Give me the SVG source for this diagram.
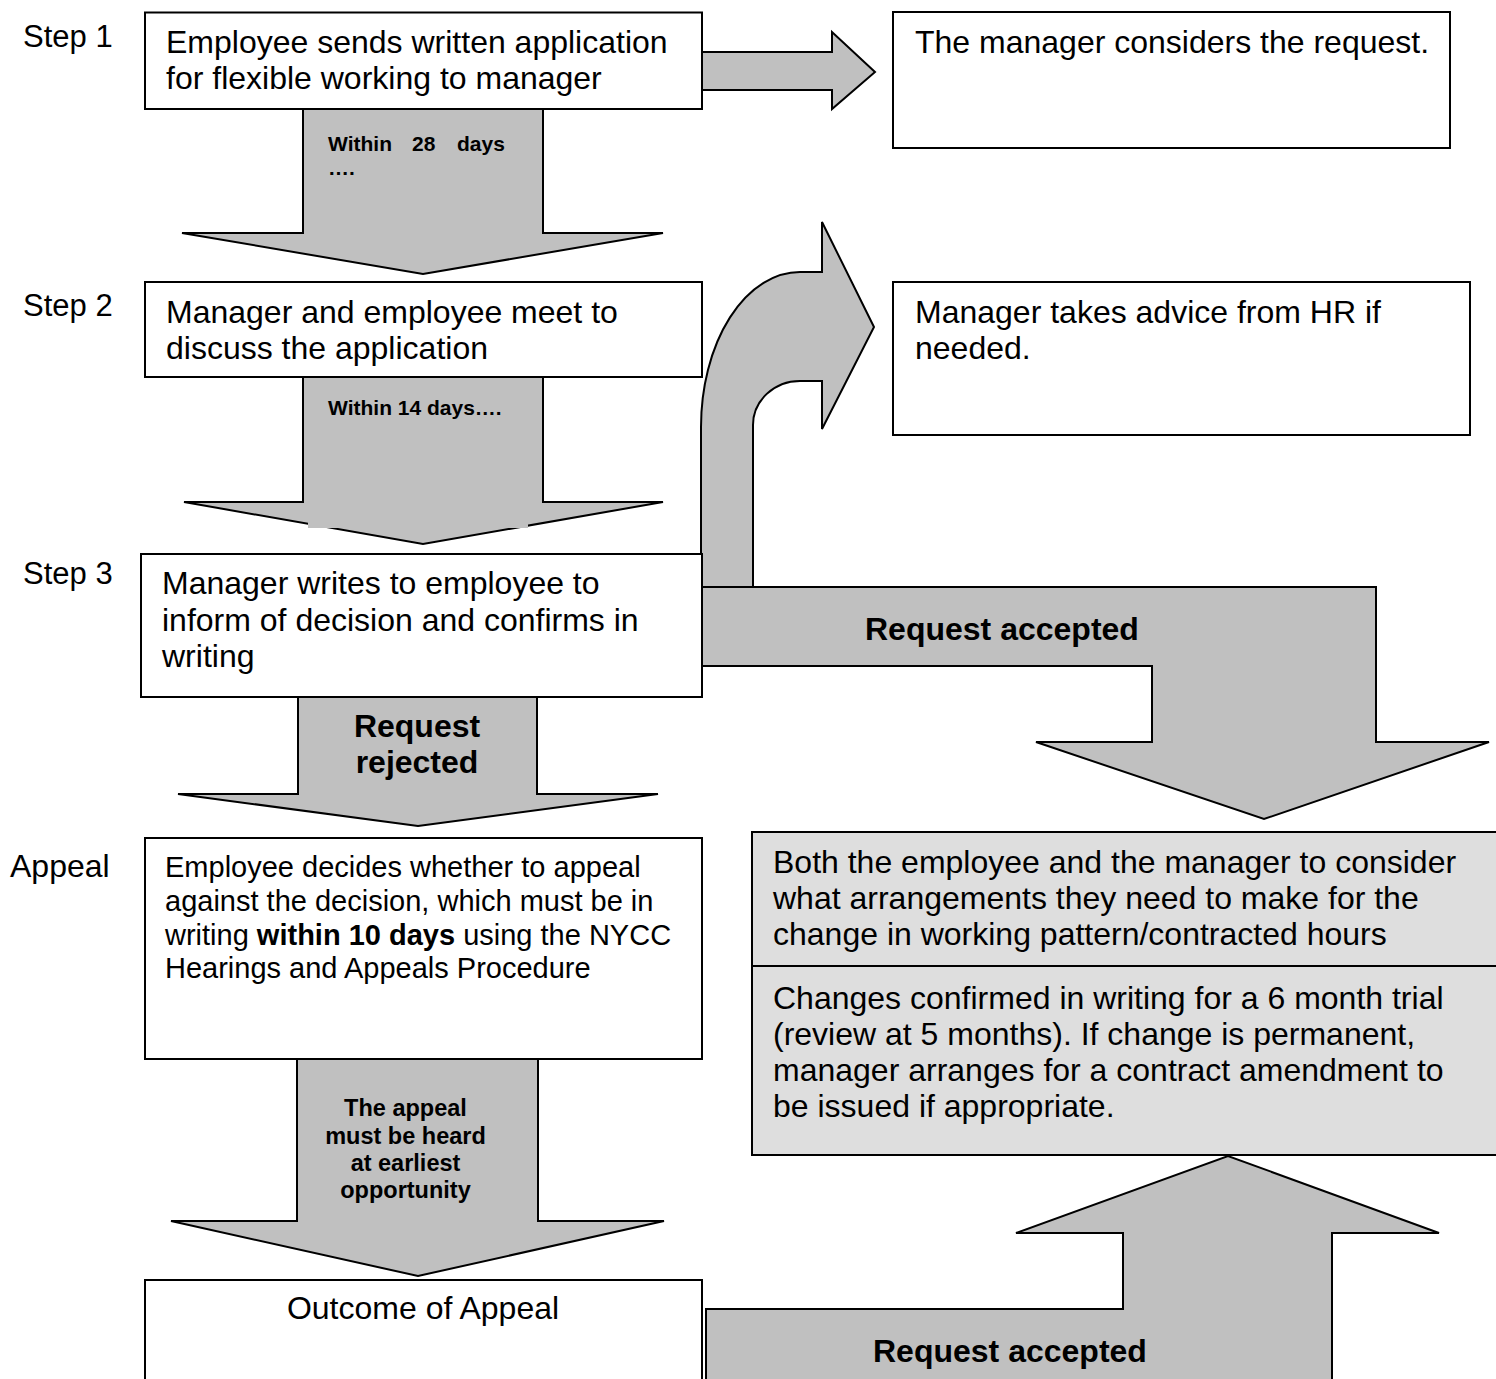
<svg xmlns="http://www.w3.org/2000/svg" width="1496" height="1379" viewBox="0 0 1496 1379">
<style>
  .bg { fill: #ffffff; }
  .box { fill: #ffffff; stroke: #000000; stroke-width: 2; }
  .gbox { fill: #dedede; stroke: #000000; stroke-width: 2; }
  .arrow { fill: #c0c0c0; stroke: #000000; stroke-width: 2; stroke-linejoin: miter; }
  .patch { fill: #c0c0c0; stroke: none; }
  .t { font-family: "Liberation Sans", Arial, sans-serif; font-size: 32px; fill: #000000; }
  .lbl { font-family: "Liberation Sans", Arial, sans-serif; font-size: 31px; fill: #000000; }
  .ta { font-family: "Liberation Sans", Arial, sans-serif; font-size: 29px; fill: #000000; }
  .b { font-weight: bold; }
  .big { font-family: "Liberation Sans", Arial, sans-serif; font-size: 32px; font-weight: bold; fill: #000000; }
  .sm { font-family: "Liberation Sans", Arial, sans-serif; font-size: 21px; font-weight: bold; fill: #000000; }
  .md { font-family: "Liberation Sans", Arial, sans-serif; font-size: 23.5px; font-weight: bold; fill: #000000; text-anchor: middle; }
  .mid { text-anchor: middle; }
</style>
<rect class="bg" x="0" y="0" width="1496" height="1379"/>

<g id="connectors">
  <!-- Step 1 to manager considers -->
  <path class="arrow" d="M702,52 H832 V32 L875,72 L832,109 V90 H702"/>
  <!-- Step 1 down to Step 2 -->
  <g id="arrow-28days">
    <path class="arrow" d="M303,109 V233 H182 L423,274 L663,233 H543 V109"/>
    <text class="sm" x="328" y="151">Within</text>
    <text class="sm" x="412" y="151">28</text>
    <text class="sm" x="457" y="151">days</text>
    <text class="sm" x="328" y="175">….</text>
  </g>
  <!-- Step 2 down to Step 3 -->
  <g id="arrow-14days">
    <path class="arrow" d="M303,377 V502 H184 L423,544 L663,502 H543 V377"/>
    <rect class="patch" x="308" y="499" width="220" height="29"/>
    <text class="sm" x="328" y="415">Within 14 days….</text>
  </g>
  <!-- curved arrow to HR -->
  <path class="arrow" d="M701,588 V427 A99,155 0 0 1 800,272 H822 V222 L874,327 L822,429 V381 H800 A47,44 0 0 0 753,425 V588"/>
  <!-- Request accepted bent arrow -->
  <g id="arrow-accepted-1">
    <path class="arrow" d="M702,587 H1376 V742 H1489 L1264,819 L1036,742 H1152 V666 H702"/>
    <text class="big" x="865" y="640">Request accepted</text>
  </g>
  <!-- Request rejected -->
  <g id="arrow-rejected">
    <path class="arrow" d="M298,697 V794 H178 L418,826 L658,794 H537 V697"/>
    <text class="big mid" x="417" y="737">Request</text>
    <text class="big mid" x="417" y="773">rejected</text>
  </g>
  <!-- Appeal heard -->
  <g id="arrow-appeal">
    <path class="arrow" d="M297,1059 V1221 H171 L418,1276 L664,1221 H538 V1059"/>
    <text class="md" x="405.5" y="1116">The appeal</text>
    <text class="md" x="405.5" y="1143.5">must be heard</text>
    <text class="md" x="405.5" y="1171">at earliest</text>
    <text class="md" x="405.5" y="1198">opportunity</text>
  </g>
  <!-- Outcome accepted up arrow -->
  <g id="arrow-accepted-2">
    <path class="arrow" d="M706,1392 V1309 H1123 V1233 H1016 L1228,1156 L1439,1233 H1332 V1392"/>
    <text class="big" x="873" y="1362">Request accepted</text>
  </g>
</g>

<g id="labels">
  <text class="lbl" x="23" y="47">Step 1</text>
  <text class="lbl" x="23" y="316">Step 2</text>
  <text class="lbl" x="23" y="584">Step 3</text>
  <text class="t" x="10" y="877">Appeal</text>
</g>

<g id="step1">
  <rect class="box" x="145" y="12.5" width="557" height="96.5"/>
  <text class="t" x="166" y="53">Employee sends written application</text>
  <text class="t" x="166" y="89">for flexible working to manager</text>
</g>

<g id="consider">
  <rect class="box" x="893" y="12" width="557" height="136"/>
  <text class="t" x="915" y="53">The manager considers the request.</text>
</g>

<g id="step2">
  <rect class="box" x="145" y="282" width="557" height="95"/>
  <text class="t" x="166" y="323">Manager and employee meet to</text>
  <text class="t" x="166" y="359">discuss the application</text>
</g>

<g id="hr">
  <rect class="box" x="893" y="282" width="577" height="153"/>
  <text class="t" x="915" y="323">Manager takes advice from HR if</text>
  <text class="t" x="915" y="359">needed.</text>
</g>

<g id="step3">
  <rect class="box" x="141" y="554" width="561" height="143"/>
  <text class="t" x="162" y="594">Manager writes to employee to</text>
  <text class="t" x="162" y="631">inform of decision and confirms in</text>
  <text class="t" x="162" y="667">writing</text>
</g>

<g id="appeal">
  <rect class="box" x="145" y="838" width="557" height="221"/>
  <text class="ta" x="165" y="877">Employee decides whether to appeal</text>
  <text class="ta" x="165" y="911">against the decision, which must be in</text>
  <text class="ta" x="165" y="945">writing <tspan class="b">within 10 days</tspan> using the NYCC</text>
  <text class="ta" x="165" y="978">Hearings and Appeals Procedure</text>
</g>

<g id="arrangements">
  <rect class="gbox" x="752" y="832" width="760" height="323"/>
  <line x1="752" y1="966" x2="1512" y2="966" stroke="#000000" stroke-width="2"/>
  <text class="t" x="773" y="873">Both the employee and the manager to consider</text>
  <text class="t" x="773" y="909">what arrangements they need to make for the</text>
  <text class="t" x="773" y="945">change in working pattern/contracted hours</text>
  <text class="t" x="773" y="1009">Changes confirmed in writing for a 6 month trial</text>
  <text class="t" x="773" y="1045">(review at 5 months). If change is permanent,</text>
  <text class="t" x="773" y="1081">manager arranges for a contract amendment to</text>
  <text class="t" x="773" y="1117">be issued if appropriate.</text>
</g>

<g id="outcome">
  <rect class="box" x="145" y="1280" width="557" height="120"/>
  <text class="t mid" x="423" y="1319">Outcome of Appeal</text>
</g>
</svg>
